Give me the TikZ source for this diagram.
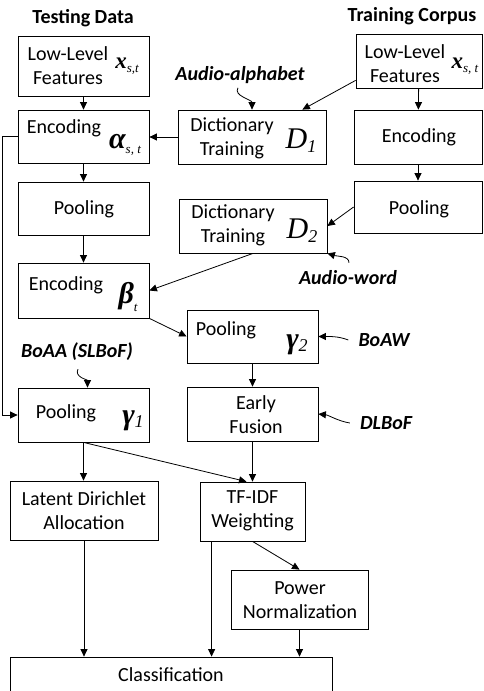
\documentclass[tikz,border=0pt]{standalone}
\usepackage{fontspec}
\setmainfont{Carlito}
\newfontfamily\symfnt{Liberation Serif}
\usetikzlibrary{arrows.meta,calc}

\tikzset{
	blk/.style={draw, line width=0.8pt, inner sep=0pt},
	txt/.style={inner sep=0pt, align=center, font=\fontsize{20}{24}\selectfont},
	ttl/.style={inner sep=0pt, font=\fontsize{20}{24}\selectfont\bfseries},
	tag/.style={inner sep=0pt, font=\fontsize{20}{24}\selectfont\bfseries\itshape},
	sym/.style={inner sep=0pt, font=\fontsize{30}{30}\symfnt\bfseries\itshape},
	arr/.style={line width=0.8pt, -{Triangle[length=7.5pt,width=7pt]}},
}
\newcommand{\lowsub}[2][5pt]{\raisebox{-#1}{\fontsize{13}{13}\selectfont\mdseries #2}}

\begin{document}
\begin{tikzpicture}[x=1pt,y=1pt,yscale=-1,xscale=1]
			\useasboundingbox (0,0) rectangle (484,691);
			
			% Text Node
			\node[ttl] (ttest) at (83,18) {Testing Data};
			% Text Node
			\node[ttl] (ttrain) at (412,16) {Training Corpus};
			
			%Shape: Rectangle
			\node[blk, minimum width=131, minimum height=60] (tstllf) at (83.5,66) {};
			%Shape: Rectangle
			\node[blk, minimum width=131, minimum height=53] (encA) at (83.5,136.5) {};
			%Shape: Rectangle
			\node[blk, minimum width=131, minimum height=53] (poolT) at (83.5,208.5) {};
			%Shape: Rectangle
			\node[blk, minimum width=131, minimum height=55] (encB) at (83.5,290.5) {};
			%Shape: Rectangle
			\node[blk, minimum width=131, minimum height=54] (pool1) at (83.5,415) {};
			%Shape: Rectangle
			\node[blk, minimum width=148, minimum height=59] (lda) at (84,510.5) {};
			%Shape: Rectangle
			\node[blk, minimum width=105, minimum height=59] (tfidf) at (252.5,511.5) {};
			%Shape: Rectangle
			\node[blk, minimum width=137, minimum height=59] (pnorm) at (299.5,599.5) {};
			%Shape: Rectangle
			\node[blk, minimum width=322, minimum height=37] (cls) at (171,675.5) {};
			%Shape: Rectangle
			\node[blk, minimum width=148, minimum height=54] (dict1) at (252,137) {};
			%Shape: Rectangle
			\node[blk, minimum width=126, minimum height=54] (trllf) at (419,61) {};
			%Shape: Rectangle
			\node[blk, minimum width=128, minimum height=54] (trenc) at (418,137) {};
			%Shape: Rectangle
			\node[blk, minimum width=128, minimum height=52] (trpool) at (418,207) {};
			%Shape: Rectangle
			\node[blk, minimum width=148, minimum height=54] (dict2) at (253,226) {};
			%Shape: Rectangle
			\node[blk, minimum width=131, minimum height=53] (pool2) at (252.5,336.5) {};
			%Shape: Rectangle
			\node[blk, minimum width=131, minimum height=54] (fusion) at (252.5,414) {};
			
			% Text Node
			\node[txt] (tstllfT) at (68,66) {Low-Level\\Features};
			% Text Node
			\node[sym, font=\fontsize{23}{23}\symfnt\bfseries\itshape] (tstllfS) at (127,66) {x\lowsub[4pt]{s,t}};
			% Text Node
			\node[txt] (encAT) at (64,128) {Encoding};
			% Text Node
			\node[sym] (encAS) at (125,145) {α\lowsub{s, t}};
			% Text Node
			\node[txt] (poolTT) at (84,209) {Pooling};
			% Text Node
			\node[txt] (encBT) at (66,285) {Encoding};
			% Text Node
			\node[sym] (encBS) at (128,297) {β\lowsub[8pt]{t}};
			% Text Node
			\node[txt] (pool1T) at (66,413) {Pooling};
			% Text Node
			\node[sym] (pool1S) at (133,421) {γ\lowsub[3pt]{\itshape\fontsize{18}{18}\selectfont 1}};
			% Text Node
			\node[txt] (ldaT) at (84,511) {Latent Dirichlet\\Allocation};
			% Text Node
			\node[txt] (tfidfT) at (252.5,511) {TF-IDF\\Weighting};
			% Text Node
			\node[txt] (pnormT) at (300,600) {Power\\Normalization};
			% Text Node
			\node[txt] (clsT) at (171,675) {Classification};
			% Text Node
			\node[txt] (dict1T) at (232,138) {Dictionary\\Training};
			% Text Node
			\node[sym, font=\fontsize{30}{30}\symfnt\itshape] (dict1S) at (301,141) {D\lowsub[4pt]{\fontsize{18}{18}\selectfont 1}};
			% Text Node
			\node[txt] (dict2T) at (233,225) {Dictionary\\Training};
			% Text Node
			\node[sym, font=\fontsize{30}{30}\symfnt\itshape] (dict2S) at (302,231) {D\lowsub[4pt]{\fontsize{18}{18}\selectfont 2}};
			% Text Node
			\node[txt] (trllfT) at (405,64) {Low-Level\\Features};
			% Text Node
			\node[sym, font=\fontsize{23}{23}\symfnt\bfseries\itshape] (trllfS) at (465,66) {x\lowsub[4pt]{s, t}};
			% Text Node
			\node[txt] (trencT) at (419,137) {Encoding};
			% Text Node
			\node[txt] (trpoolT) at (419,209) {Pooling};
			% Text Node
			\node[txt] (pool2T) at (226,330) {Pooling};
			% Text Node
			\node[sym] (pool2S) at (297,345) {γ\lowsub[3pt]{\fontsize{18}{18}\selectfont 2}};
			% Text Node
			\node[txt] (fusionT) at (256,415) {Early\\Fusion};
			
			% Text Node
			\node[tag] (aalph) at (240,75) {Audio-alphabet};
			% Text Node
			\node[tag] (aword) at (348,278) {Audio-word};
			% Text Node
			\node[tag] (boaw) at (384,340) {BoAW};
			% Text Node
			\node[tag] (dlbof) at (386,423) {DLBoF};
			% Text Node
			\node[tag] (boaa) at (77,352) {BoAA (SLBoF)};
			
			\coordinate (tfleg) at ($(tfidf.south west)+(12,0)$);
			
			%Straight Lines
			\draw[arr] (tstllf) -- (encA);
			\draw[arr] (dict1.west) -- (dict1.west -| encA.east);
			\draw[arr] (encA) -- (poolT);
			\draw[arr] (poolT) -- (encB);
			\draw[arr] (dict2.south) -- (encB.east);
			\draw[arr] (encB.south east) -- (pool2.west);
			\draw[arr] (pool2) -- (fusion);
			\draw[arr] (fusion) -- (tfidf);
			\draw[arr] (pool1.south) -- (pool1.south |- lda.north);
			\draw[arr] (pool1.south) -- ($(tfidf.north)+(-6,0)$);
			\draw[arr] (tfidf.south) -- (pnorm.north);
			\draw[arr] (tfleg) -- (tfleg |- cls.north);
			\draw[arr] (lda.south) -- (lda.south |- cls.north);
			\draw[arr] (pnorm.south) -- (pnorm.south |- cls.north);
			\draw[arr] (encA.west) -- ++(-15,0) |- (pool1.west);
			\draw[arr] (trllf) -- (trenc);
			\draw[arr] (trenc) -- (trpool);
			\draw[arr] (trpool.west) -- (dict2.east);
			\draw[arr] ($(trllf.south west)+(0,-8)$) -- ($(dict1.north east)+(-24,0)$);
			
			%Curve Lines
			\draw[arr] ($(aalph.south)+(-2,4)$) .. controls +(-5,8) and +(0,-10) .. (dict1.north);
			%Curve Lines
			\draw[arr] ($(aword.north)+(1,-8)$) .. controls +(0,-7) and +(10,3) .. (dict2.south east);
			%Curve Lines
			\draw[arr] ($(boaw.west)+(-10,0)$) .. controls +(-10,-4) and +(10,0) .. (pool2.east);
			%Curve Lines
			\draw[arr] ($(dlbof.west)+(-10,0)$) .. controls +(-12,-2) and +(10,1) .. (fusion.east);
			%Curve Lines
			\draw[arr] ($(boaa.south)+(1,8)$) .. controls +(-4,8) and +(0,-8) .. ($(pool1.north)+(4,0)$);
			
\end{tikzpicture}
\end{document}
